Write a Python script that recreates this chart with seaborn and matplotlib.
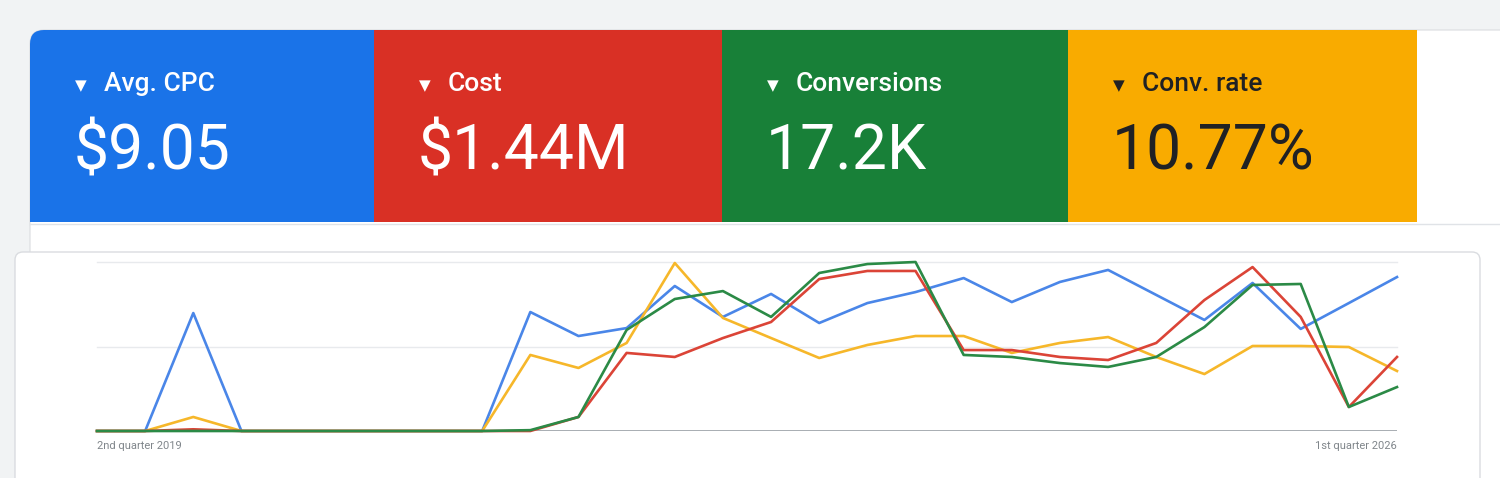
import matplotlib
matplotlib.use('Agg')
import matplotlib.pyplot as plt
from matplotlib.patches import Rectangle, FancyBboxPatch
import seaborn as sns
import pandas as pd

# quarters from Q2 2019 to Q1 2026
quarters = [f'Q{q} {y}' for y in range(2019, 2027) for q in range(1, 5)][1:29]
first_label = '2nd quarter 2019'
last_label = '1st quarter 2026'

# series (0-100 of the chart height)
avg_cpc = [0, 0, 69.8, 0, 0, 0, 0, 0, 0, 70.4, 56.2, 60.9, 85.8, 67.5,
           81.1, 63.9, 75.7, 82.2, 90.5, 76.3, 88.2, 95.3, 80.5, 65.7,
           87.6, 60.4, 75.7, 91.1]
cost = [0, 0, 1.0, 0, 0, 0, 0, 0, 0, 0, 8.3, 46.2, 43.8, 55.0,
        64.5, 89.9, 94.7, 94.7, 47.9, 47.9, 43.8, 42.0, 52.1, 77.5,
        97.0, 67.5, 14.2, 43.8]
conversions = [0, 0, 0, 0, 0, 0, 0, 0, 0, 0.5, 8.3, 59.8, 78.1, 82.8,
               67.5, 93.5, 98.8, 100, 45.0, 43.8, 40.2, 37.9, 43.8, 61.5,
               86.4, 87.0, 14.2, 26.0]
conv_rate = [0, 0, 8.3, 0, 0, 0, 0, 0, 0, 45.0, 37.3, 52.1, 99.4, 66.9,
             55.0, 43.2, 50.9, 56.2, 56.2, 46.2, 52.1, 55.6, 43.8, 33.7,
             50.3, 50.3, 49.7, 35.5]

metrics = ['Avg. CPC', 'Cost', 'Conversions', 'Conv. rate']
totals = ['$9.05', '$1.44M', '17.2K', '10.77%']
card_colors = ['#1a73e8', '#d93025', '#188038', '#f9ab00']
text_colors = ['white', 'white', 'white', '#202124']
line_colors = {'Avg. CPC': '#4a86e8', 'Cost': '#db4437',
               'Conversions': '#2b8a46', 'Conv. rate': '#f6b72a'}

rows = []
for name, vals in zip(metrics, [avg_cpc, cost, conversions, conv_rate]):
    for i, v in enumerate(vals):
        rows.append({'x': i, 'Quarter': quarters[i], 'Metric': name, 'Value': v})
df = pd.DataFrame(rows)

W, H = 1500, 478
fig = plt.figure(figsize=(W / 100, H / 100), dpi=100)
fig.patch.set_facecolor('#f1f3f4')

# background axes in pixel coordinates
bg = fig.add_axes([0, 0, 1, 1])
bg.set_xlim(0, W)
bg.set_ylim(H, 0)
bg.axis('off')

# card container
bg.add_patch(FancyBboxPatch((30, 30), 1500, 500, boxstyle='round,pad=0,rounding_size=14',
                            fc='white', ec='#dadce0', lw=0.8))
bg.plot([30, W], [224, 224], color='#e0e3e7', lw=1)

edges = [30, 374, 722, 1068, 1417]
for k in range(4):
    x0, x1 = edges[k], edges[k + 1]
    if k == 0:
        bg.add_patch(FancyBboxPatch((x0, 30), x1 - x0, 192,
                                    boxstyle='round,pad=0,rounding_size=14',
                                    fc=card_colors[k], ec='none'))
        bg.add_patch(Rectangle((x0 + 20, 30), x1 - x0 - 20, 192, fc=card_colors[k], ec='none'))
        bg.add_patch(Rectangle((x0, 60), x1 - x0, 162, fc=card_colors[k], ec='none'))
    else:
        bg.add_patch(Rectangle((x0, 30), x1 - x0, 192, fc=card_colors[k], ec='none'))
    tx = x0 + 43
    bg.text(tx + 8, 86, '\u25bc', color=text_colors[k], fontsize=11,
            ha='center', va='center', family=['DejaVu Sans'])
    bg.text(tx + 31, 84, metrics[k], color=text_colors[k], fontsize=19,
            fontweight='medium', ha='left', va='center',
            family=['Roboto', 'DejaVu Sans'])
    bg.text(tx + 1, 152, totals[k], color=text_colors[k], fontsize=45,
            ha='left', va='center', family=['Roboto', 'DejaVu Sans'])

# chart panel
bg.add_patch(FancyBboxPatch((15, 252), 1465, 260, boxstyle='round,pad=0,rounding_size=8',
                            fc='white', ec='#dadce0', lw=1))

# line chart
ax = fig.add_axes([97 / W, (H - 431) / H, 1300 / W, 169 / H])
ax.set_facecolor('none')
for y in [50, 100]:
    ax.axhline(y, color='#e8eaed', lw=1, zorder=0)

sns.lineplot(data=df, x='x', y='Value', hue='Metric',
             hue_order=['Avg. CPC', 'Conv. rate', 'Cost', 'Conversions'],
             palette=line_colors, linewidth=1.9, legend=False, ax=ax)
for ln in ax.get_lines():
    ln.set_clip_on(False)

ax.set_xlim(0, len(quarters) - 1)
ax.set_ylim(0, 100)
ax.axhline(0, color='#9aa0a6', lw=1.2, zorder=1)
for s in ax.spines.values():
    s.set_visible(False)
ax.set_xticks([])
ax.set_yticks([])
ax.set_xlabel('')
ax.set_ylabel('')
ax.text(0, -6, first_label, transform=ax.transData, ha='left', va='top',
        fontsize=8, color='#80868b', family=['Roboto', 'DejaVu Sans'])
ax.text(len(quarters) - 1, -6, last_label, transform=ax.transData, ha='right', va='top',
        fontsize=8, color='#80868b', family=['Roboto', 'DejaVu Sans'])

fig.savefig('out.png', dpi=100)
